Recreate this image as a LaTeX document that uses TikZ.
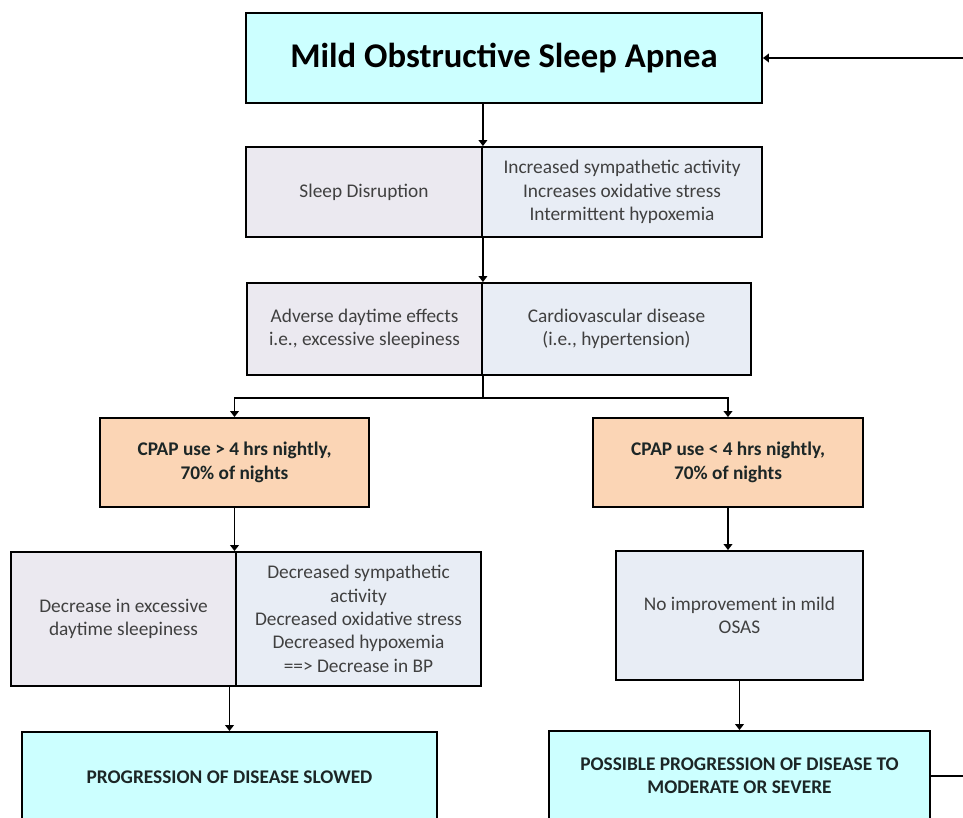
\documentclass[tikz,border=0pt]{standalone}
\usepackage{fontspec}
\setmainfont{Carlito}
\usetikzlibrary{arrows.meta}
\definecolor{aquafill}{HTML}{CCFFFF}
\definecolor{lilacfill}{HTML}{EBE9F0}
\definecolor{mistfill}{HTML}{E8EDF5}
\definecolor{peachfill}{HTML}{FBD5B5}
\definecolor{greytext}{HTML}{404040}
\definecolor{darktext}{HTML}{1C2626}

\begin{document}
\begin{tikzpicture}[x = 0.75pt, y = -0.75pt, line width = 1.4pt,
        block/.style n args = {3}{draw, fill = #1, minimum width = #2*0.75, minimum height = #3*0.75, inner sep = 0pt, align = center, font = \fontsize{14.5}{17.5}\selectfont, text = greytext},
        strong/.style = {font = \fontsize{14.5}{17.5}\selectfont\bfseries, text = darktext},
        link/.style = {-{Triangle[width = 6.5pt, length = 4.5pt]}}]
    \useasboundingbox (0, 0) rectangle (963, 817);
    \clip (0, 0) rectangle (963, 817);
    \path (504, 58) node[block = {aquafill}{516}{90}, font = \fontsize{26}{30}\selectfont\bfseries, text = black] (apnea) {Mild Obstructive Sleep Apnea}
          (364, 192) node[block = {lilacfill}{236}{90}] (disrupt) {Sleep Disruption}
          (622, 192) node[block = {mistfill}{280}{90}] (stress) {Increased sympathetic activity\\ Increases oxidative stress\\ Intermittent hypoxemia}
          (364.5, 329) node[block = {lilacfill}{235}{92}] (adverse) {Adverse daytime effects\\ i.e., excessive sleepiness}
          (616.5, 329) node[block = {mistfill}{269}{92}] (cardio) {Cardiovascular disease\\ (i.e., hypertension)}
          (234.5, 462.5) node[block = {peachfill}{269}{89}, strong] (cpapgt) {CPAP use > 4 hrs nightly,\\ 70\% of nights}
          (728, 462.5) node[block = {peachfill}{270}{89}, strong] (cpaplt) {CPAP use < 4 hrs nightly,\\ 70\% of nights}
          (123.5, 619) node[block = {lilacfill}{225}{134}] (sleepy) {Decrease in excessive\\ daytime sleepiness}
          (358.5, 619) node[block = {mistfill}{245}{134}] (bpdrop) {Decreased sympathetic\\ activity\\ Decreased oxidative stress\\ Decreased hypoxemia\\ ==> Decrease in BP}
          (739.5, 615.5) node[block = {mistfill}{247}{129}] (noimprove) {No improvement in mild\\ OSAS}
          (229.5, 777) node[block = {aquafill}{415}{90}, strong] (slowed) {PROGRESSION OF DISEASE SLOWED}
          (739.5, 776) node[block = {aquafill}{381}{90}, strong] (severe) {POSSIBLE PROGRESSION OF DISEASE TO\\ MODERATE OR SEVERE};
    \draw[link] (disrupt.north east |- apnea.south) -- (disrupt.north east);
    \draw[link] (disrupt.south east) -- (adverse.north east);
    \draw (adverse.south east) -- ++(0, 22) coordinate (fork);
    \draw[link] (fork) -| (cpapgt.north);
    \draw[link] (fork) -| (cpaplt.north);
    \draw[link] (cpapgt.south) -- (cpapgt.south |- sleepy.north);
    \draw[link] (slowed.north |- sleepy.south) -- (slowed.north);
    \draw[link] (cpaplt.south) -- (cpaplt.south |- noimprove.north);
    \draw[link] (noimprove.south) -- (severe.north);
    \draw[link] (severe.east) -- ++(60, 0) |- (apnea.east);
\end{tikzpicture}
\end{document}
